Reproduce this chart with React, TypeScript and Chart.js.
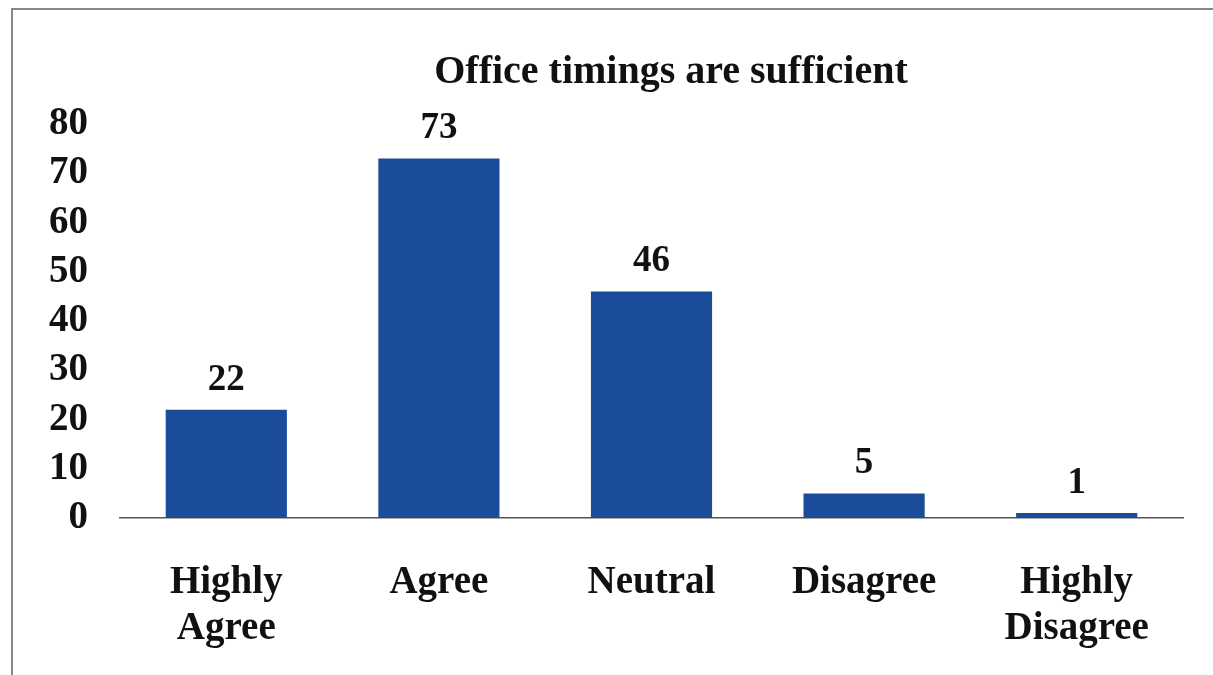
import React, { useEffect, useRef } from "react";
import { Chart, registerables } from "chart.js";

Chart.register(...registerables);

const categories: (string | string[])[] = [
  ["Highly", "Agree"],
  "Agree",
  "Neutral",
  "Disagree",
  ["Highly", "Disagree"],
];
const responses: number[] = [22, 73, 46, 5, 1];
const yTicks: number[] = [0, 10, 20, 30, 40, 50, 60, 70, 80];
const chartTitle = "Office timings are sufficient";

const FONT = "'Liberation Serif', 'Times New Roman', serif";
const TEXT = "#111111";
const BAR = "#1A4C99";

const labelsPlugin = {
  id: "customLabels",
  afterDatasetsDraw(chart: any) {
    const ctx = chart.ctx;
    ctx.save();
    ctx.fillStyle = TEXT;
    ctx.font = `bold 37px ${FONT}`;
    ctx.textAlign = "center";
    ctx.textBaseline = "alphabetic";
    const meta = chart.getDatasetMeta(0);
    meta.data.forEach((bar: any, i: number) => {
      ctx.fillText(String(responses[i]), bar.x, bar.y - 20);
    });
    ctx.font = `bold 40px ${FONT}`;
    ctx.fillText(chartTitle, 671, 83);
    ctx.restore();
  },
};

export default function App() {
  const ref = useRef<HTMLCanvasElement | null>(null);

  useEffect(() => {
    if (!ref.current) return;
    const chart = new Chart(ref.current, {
      type: "bar",
      data: {
        labels: categories,
        datasets: [
          {
            data: responses,
            backgroundColor: BAR,
            borderWidth: 0,
            categoryPercentage: 1,
            barPercentage: 0.57,
          },
        ],
      },
      options: {
        animation: false,
        responsive: false,
        maintainAspectRatio: false,
        layout: { padding: { top: 124, left: 49, right: 30, bottom: 7 } },
        plugins: {
          legend: { display: false },
          title: { display: false },
          tooltip: { enabled: false },
        },
        scales: {
          x: {
            grid: { display: false, drawTicks: false },
            border: { display: true, color: "#555555", width: 1.5 },
            ticks: {
              color: TEXT,
              padding: 42,
              maxRotation: 0,
              autoSkip: false,
              font: { family: FONT, size: 39, weight: "bold", lineHeight: 1.18 },
            },
            afterFit(scale: any) {
              scale.height = 150;
            },
          },
          y: {
            min: 0,
            max: 80,
            grid: { display: false, drawTicks: false },
            border: { display: false },
            afterBuildTicks(scale: any) {
              scale.ticks = yTicks.map((v) => ({ value: v }));
            },
            ticks: {
              color: TEXT,
              padding: 32,
              autoSkip: false,
              font: { family: FONT, size: 39, weight: "bold", lineHeight: 1 },
            },
            afterFit(scale: any) {
              scale.width = 71;
            },
          },
        },
      },
      plugins: [labelsPlugin],
    });
    return () => chart.destroy();
  }, []);

  return (
    <div
      style={{
        position: "fixed",
        left: 0,
        top: 0,
        width: 1213,
        height: 675,
        overflow: "hidden",
        background: "#ffffff",
      }}
    >
      <div
        style={{
          position: "absolute",
          left: 11,
          top: 8,
          width: 1300,
          height: 800,
          borderLeft: "2px solid #888888",
          borderTop: "2px solid #888888",
          boxSizing: "border-box",
        }}
      />
      <canvas
        ref={ref}
        width={1213}
        height={675}
        style={{ position: "absolute", left: 0, top: 0, width: 1213, height: 675 }}
      />
    </div>
  );
}
